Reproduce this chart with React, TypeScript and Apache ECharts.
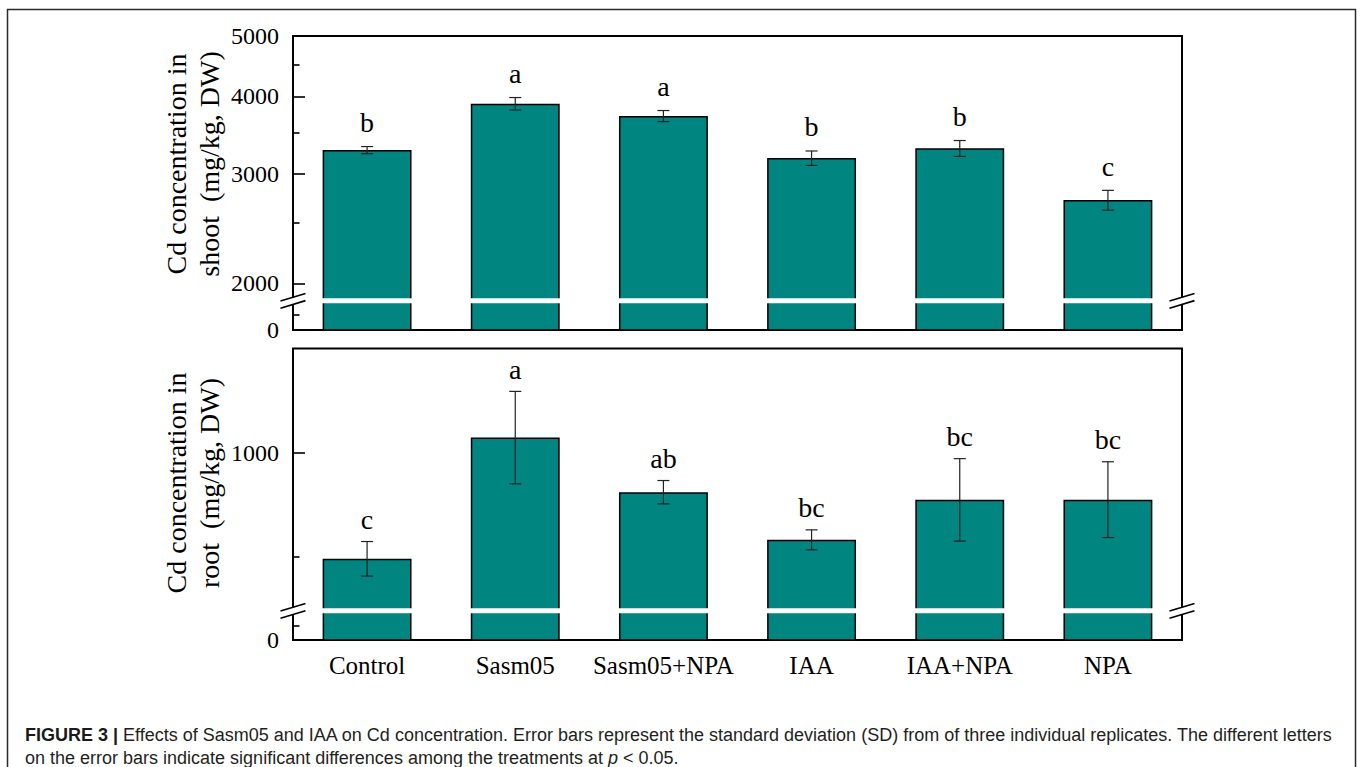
import React, { useEffect, useRef } from 'react';
import * as echarts from 'echarts';

// Treatments on the shared category axis
const treatments = ['Control', 'Sasm05', 'Sasm05+NPA', 'IAA', 'IAA+NPA', 'NPA'];

// Shoot Cd concentration (mg/kg, DW), plotted on a log scale with a broken base
const shootMean = [3277, 3891, 3718, 3181, 3298, 2723];
const shootSD = [43, 90, 76, 85, 97, 100];
const shootLetters = ['b', 'a', 'a', 'b', 'b', 'c'];
const shootTicks = [2000, 3000, 4000, 5000];
const shootMinorTicks = [1778, 2500, 3500, 4500];
const shootAxisMin = 1683;
const shootAxisMax = 5000;
const shootBreak = 1875;

// Root Cd concentration (mg/kg, DW), linear scale with a broken base
const rootMean = [490, 1072, 810, 581, 773, 774];
const rootSD = [83, 222, 56, 48, 198, 182];
const rootLetters = ['c', 'a', 'ab', 'bc', 'bc', 'bc'];
const rootTicks = [1000];
const rootMinorTicks = [167, 500];
const rootAxisMin = 100;
const rootAxisMax = 1500;
const rootBreak = 240;

const BAR_COLOR = '#008580';
const SERIF = 'Liberation Serif';
const SANS = 'Liberation Sans';

type Panel = {
  grid: number;
  log: boolean;
  mean: number[];
  sd: number[];
  letters: string[];
  ticks: number[];
  minor: number[];
  min: number;
  max: number;
  brk: number;
  letterGap: number;
};

const panels: Panel[] = [
  {
    grid: 0, log: true, mean: shootMean, sd: shootSD, letters: shootLetters,
    ticks: shootTicks, minor: shootMinorTicks, min: shootAxisMin, max: shootAxisMax,
    brk: shootBreak, letterGap: 10,
  },
  {
    grid: 1, log: false, mean: rootMean, sd: rootSD, letters: rootLetters,
    ticks: rootTicks, minor: rootMinorTicks, min: rootAxisMin, max: rootAxisMax,
    brk: rootBreak, letterGap: 8,
  },
];

function buildOption() {
  const grids: any[] = [
    { left: 293, top: 36, width: 889, height: 294 },
    { left: 293, top: 348.5, width: 889, height: 291.5 },
  ].map((g) => ({
    ...g,
    show: true,
    borderColor: '#000',
    borderWidth: 2,
    backgroundColor: 'transparent',
    containLabel: false,
    outerBoundsMode: 'none',
  }));

  const xAxes: any[] = [];
  const yAxes: any[] = [];
  const series: any[] = [];

  panels.forEach((p) => {
    const tf = p.log ? (v: number) => Math.log10(v) : (v: number) => v;
    const inv = p.log ? (v: number) => Math.pow(10, v) : (v: number) => v;
    const lo = tf(p.min);
    const hi = tf(p.max);
    const yMain = yAxes.length;

    xAxes.push({
      type: 'category',
      gridIndex: p.grid,
      data: treatments,
      axisLine: { show: false },
      axisTick: { show: false },
      splitLine: { show: false },
      axisLabel: {
        show: p.grid === 1,
        interval: 0,
        margin: 13,
        fontSize: 25,
        fontFamily: SERIF,
        color: '#000',
      },
    });

    // major ticks + labels (the axis minimum is printed as 0 below the break)
    yAxes.push({
      type: 'value',
      gridIndex: p.grid,
      position: 'left',
      min: lo,
      max: hi,
      axisLine: { show: false },
      splitLine: { show: false },
      axisTick: {
        show: true,
        inside: true,
        length: 12,
        customValues: p.ticks.map(tf),
        lineStyle: { color: '#000', width: 1.6 },
      },
      axisLabel: {
        show: true,
        customValues: [lo, ...p.ticks.map(tf)],
        formatter: (v: number) =>
          Math.abs(v - lo) < 1e-9 ? '0' : String(Math.round(inv(v))),
        margin: 14,
        fontSize: 24,
        fontFamily: SERIF,
        color: '#000',
      },
    });

    // minor ticks
    yAxes.push({
      type: 'value',
      gridIndex: p.grid,
      position: 'left',
      min: lo,
      max: hi,
      axisLine: { show: false },
      splitLine: { show: false },
      axisLabel: { show: false },
      axisTick: {
        show: true,
        inside: true,
        length: 6.5,
        customValues: p.minor.map(tf),
        lineStyle: { color: '#000', width: 1.6 },
      },
    });

    series.push({
      type: 'bar',
      xAxisIndex: p.grid,
      yAxisIndex: yMain,
      data: p.mean.map(tf),
      barWidth: '60%',
      clip: true,
      z: 2,
      itemStyle: { color: BAR_COLOR, borderColor: '#000', borderWidth: 1.5 },
    });

    // error bars with significance letters
    series.push({
      type: 'custom',
      xAxisIndex: p.grid,
      yAxisIndex: yMain,
      z: 5,
      silent: true,
      data: p.mean.map((m, i) => [i, tf(m - p.sd[i]), tf(m + p.sd[i])]),
      encode: { x: 0, y: [1, 2] },
      renderItem: (params: any, api: any) => {
        const i = api.value(0);
        const a = api.coord([i, api.value(1)]);
        const b = api.coord([i, api.value(2)]);
        const cap = 6;
        const style = { stroke: '#222', lineWidth: 1.2 };
        return {
          type: 'group',
          children: [
            { type: 'line', shape: { x1: a[0], y1: a[1], x2: b[0], y2: b[1] }, style },
            { type: 'line', shape: { x1: b[0] - cap, y1: b[1], x2: b[0] + cap, y2: b[1] }, style },
            { type: 'line', shape: { x1: a[0] - cap, y1: a[1], x2: a[0] + cap, y2: a[1] }, style },
            {
              type: 'text',
              x: b[0],
              y: b[1] - p.letterGap,
              style: {
                text: p.letters[params.dataIndex],
                align: 'center',
                verticalAlign: 'bottom',
                fontSize: 28,
                fontFamily: SERIF,
                fill: '#000',
              },
            },
          ],
        };
      },
    });

    // axis break: white band through the bars and double slashes on both frame sides
    series.push({
      type: 'custom',
      xAxisIndex: p.grid,
      yAxisIndex: yMain,
      z: 10,
      silent: true,
      data: [[0, tf(p.brk)]],
      encode: { x: 0, y: 1 },
      renderItem: (params: any, api: any) => {
        const cs = params.coordSys;
        const y = api.coord([0, api.value(1)])[1];
        const white = { fill: '#fff' };
        const slash = { stroke: '#000', lineWidth: 1.6 };
        const dx = 12.5;
        const dy = 3.8;
        const half = 3.6;
        const marks = (x: number) => [
          { type: 'rect', shape: { x: x - 3, y: y - half, width: 6, height: half * 2 }, style: white },
          { type: 'line', shape: { x1: x - dx, y1: y - half + dy, x2: x + dx, y2: y - half - dy }, style: slash },
          { type: 'line', shape: { x1: x - dx, y1: y + half + dy, x2: x + dx, y2: y + half - dy }, style: slash },
        ];
        return {
          type: 'group',
          children: [
            { type: 'rect', shape: { x: cs.x, y: y - 2.5, width: cs.width, height: 5 }, style: white },
            ...marks(cs.x),
            ...marks(cs.x + cs.width),
          ],
        };
      },
    });
  });

  const graphic: any[] = [
    {
      type: 'rect',
      silent: true,
      shape: { x: 7.5, y: 9.5, width: 1348, height: 800 },
      style: { fill: 'none', stroke: '#2a2a2a', lineWidth: 1.5 },
    },
    {
      type: 'text',
      x: 193,
      y: 164,
      rotation: Math.PI / 2,
      style: {
        text: 'Cd concentration in\nshoot \u00a0(mg/kg, DW)',
        align: 'center',
        verticalAlign: 'middle',
        fontSize: 28,
        fontFamily: SERIF,
        lineHeight: 33,
        fill: '#000',
      },
    },
    {
      type: 'text',
      x: 193,
      y: 483,
      rotation: Math.PI / 2,
      style: {
        text: 'Cd concentration in\nroot \u00a0(mg/kg, DW)',
        align: 'center',
        verticalAlign: 'middle',
        fontSize: 28,
        fontFamily: SERIF,
        lineHeight: 33,
        fill: '#000',
      },
    },
    {
      type: 'text',
      x: 25,
      y: 724,
      style: {
        text:
          '{b|FIGURE 3 |} Effects of Sasm05 and IAA on Cd concentration. Error bars represent the standard deviation (SD) from of three individual replicates. The different letters\n' +
          'on the error bars indicate significant differences among the treatments at {i|p} < 0.05.',
        fontSize: 18,
        fontFamily: SANS,
        lineHeight: 22.5,
        fill: '#231f20',
        align: 'left',
        verticalAlign: 'top',
        rich: {
          b: { fontSize: 18, fontFamily: SANS, fontWeight: 'bold', fill: '#1a1a1a', lineHeight: 22.5 },
          i: { fontSize: 18, fontFamily: SANS, fontStyle: 'italic', fill: '#231f20', lineHeight: 22.5 },
        },
      },
    },
  ];

  return {
    animation: false,
    backgroundColor: '#fff',
    textStyle: { fontFamily: SERIF },
    grid: grids,
    xAxis: xAxes,
    yAxis: yAxes,
    series,
    graphic,
  };
}

export default function App() {
  const ref = useRef<HTMLDivElement>(null);

  useEffect(() => {
    if (!ref.current) return;
    const chart = echarts.init(ref.current, undefined, { renderer: 'svg' });
    chart.setOption(buildOption() as any);
    return () => {
      chart.dispose();
    };
  }, []);

  return (
    <div
      ref={ref}
      style={{ position: 'absolute', left: 0, top: 0, width: 1360, height: 767, background: '#fff' }}
    />
  );
}
